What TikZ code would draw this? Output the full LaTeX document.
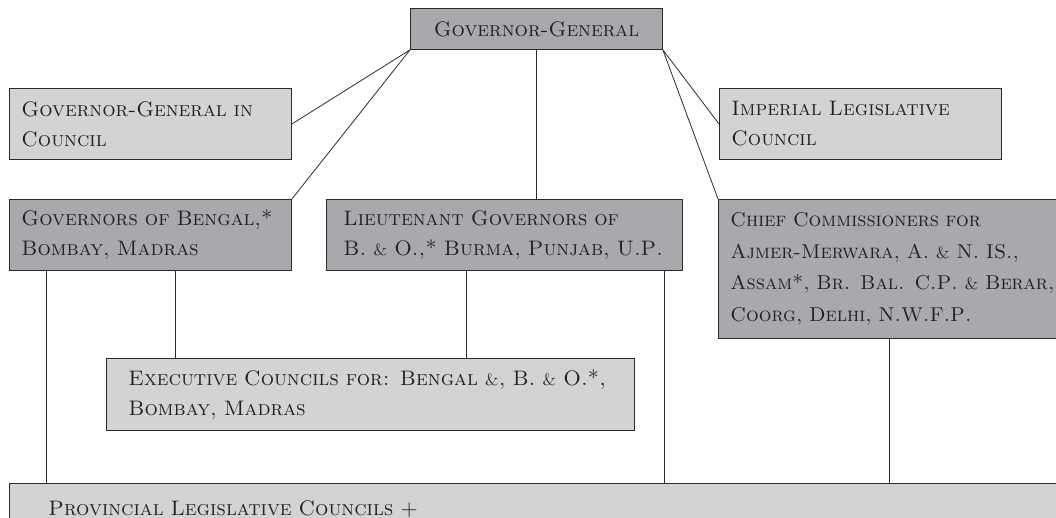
\documentclass[tikz,border=0pt]{standalone}
\usepackage{xcolor}

\definecolor{boxdark}{RGB}{167,169,172}
\definecolor{boxlight}{RGB}{209,211,212}
\definecolor{boxline}{RGB}{45,42,43}
\definecolor{ink}{RGB}{35,31,32}

\newcommand\amp{{\fontsize{16.5}{30}\selectfont\&}}
\newcommand\tightspace[1]{\spaceskip=#1 plus 1pt minus 1pt\relax}

\tikzset{
  darkbox/.style={draw=boxline,line width=0.9pt,fill=boxdark,text=ink,anchor=north west,
    align=left,inner xsep=12pt,inner ysep=0pt,
    font=\scshape\fontsize{21}{30}\selectfont\tightspace{4.8pt}},
  lightbox/.style={darkbox,fill=boxlight},
  link/.style={draw=boxline,line width=0.8pt}
}

\begin{document}
\begin{tikzpicture}[x=1pt,y=1pt]
\clip[use as bounding box](0,0)rectangle(1056,-518);
\node[darkbox,align=center,text width=228pt,minimum height=41pt](gg)at(410,-8){Governor-General};
\node[lightbox,text width=258pt,minimum height=71pt](ggc)at(9,-88){\mbox{Governor-General in}\\Council};
\node[lightbox,text width=258pt,minimum height=71pt](ilc)at(719,-88){\mbox{Imperial Legislative}\\Council};
\node[darkbox,text width=258pt,minimum height=71pt](gov)at(9,-199){\mbox{Governors of Bengal,*}\\\mbox{Bombay, Madras}};
\node[darkbox,inner xsep=17pt,text width=322pt,minimum height=71pt](ltg)at(326,-199){\mbox{Lieutenant Governors of}\\\mbox{B. \amp{} O.,* Burma, Punjab, U.P.}};
\node[darkbox,text width=340pt,minimum height=139pt,
  font=\scshape\fontsize{20}{31.5}\selectfont\tightspace{4.5pt}](cc)at(718,-199){\mbox{Chief Commissioners for}\\\mbox{Ajmer-Merwara, A. \amp{} N. IS.,}\\\mbox{Assam*, Br. Bal. C.P. \amp{} Berar,}\\\mbox{Coorg, Delhi, N.W.F.P.}};
\node[lightbox,inner xsep=22pt,text width=484pt,minimum height=72pt](exc)at(106,-358){\mbox{Executive Councils for: Bengal \amp, B. \amp{} O.*,}\\\mbox{Bombay, Madras}};
\node[lightbox,inner xsep=39pt,inner ysep=17pt,text width=992pt](plc)at(9,-483){Provincial Legislative Councils +};
% top level
\draw[link](gg.south west)--(ggc.east);
\draw[link](gg.south west)--(gov.north east);
\draw[link](gg.south)--(gg.south|-ltg.north);
\draw[link](gg.south east)--(ilc.west);
\draw[link](gg.south east)--(cc.north west);
% provinces
\coordinate(g1)at([xshift=37pt]gov.south west);
\coordinate(g2)at([xshift=166pt]gov.south west);
\coordinate(l1)at([xshift=140pt]ltg.south west);
\coordinate(l2)at([xshift=338pt]ltg.south west);
\coordinate(c1)at([xshift=171pt]cc.south west);
\draw[link](g1)--(g1|-plc.north);
\draw[link](g2)--(g2|-exc.north);
\draw[link](l1)--(l1|-exc.north);
\draw[link](l2)--(l2|-plc.north);
\draw[link](c1)--(c1|-plc.north);
\end{tikzpicture}
\end{document}
